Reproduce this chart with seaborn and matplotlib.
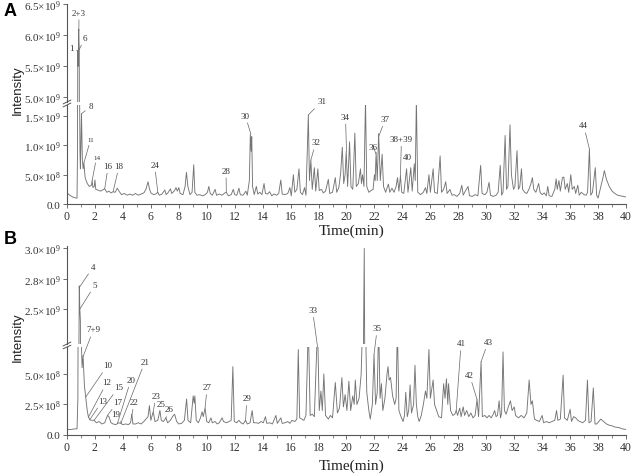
import numpy as np
import pandas as pd
import matplotlib
matplotlib.use("Agg")
import matplotlib.pyplot as plt
import seaborn as sns

# ---------------- data (intensity in units of 1e8) ----------------
time_A = [0.00,0.20,0.40,0.60,0.72,0.75,0.77,0.80,0.84,0.88,0.90,0.93,0.96,1.04,1.10,1.16,1.21,1.30,1.45,1.60,
          1.75,1.80,1.86,1.95,2.00,2.06,2.20,2.40,2.55,2.70,2.85,3.00,3.15,3.30,3.45,3.60,3.75,3.90,4.10,4.30,
          4.50,4.70,4.90,5.10,5.30,5.50,5.65,5.80,5.90,6.00,6.20,6.35,6.50,6.60,6.80,7.00,7.10,7.25,7.40,7.50,
          7.70,7.80,7.90,8.00,8.10,8.30,8.45,8.55,8.65,8.80,8.95,9.07,9.15,9.30,9.50,9.70,9.90,10.05,10.15,10.25,
          10.40,10.60,10.70,10.90,11.10,11.30,11.40,11.55,11.75,11.90,12.00,12.15,12.30,12.40,12.60,12.80,12.90,13.05,13.12,13.18,
          13.22,13.28,13.40,13.55,13.65,13.80,13.95,14.10,14.20,14.35,14.50,14.65,14.80,15.00,15.15,15.30,15.40,15.60,15.80,15.95,
          16.05,16.20,16.30,16.45,16.60,16.70,16.85,17.00,17.10,17.27,17.35,17.45,17.55,17.70,17.80,17.95,18.05,18.20,18.35,18.50,
          18.70,18.80,19.00,19.20,19.30,19.45,19.58,19.70,19.80,19.90,19.98,20.08,20.22,20.32,20.45,20.60,20.70,20.85,21.00,21.07,
          21.15,21.25,21.36,21.45,21.60,21.75,21.90,22.00,22.05,22.12,22.20,22.30,22.42,22.55,22.65,22.80,23.00,23.10,23.25,23.40,
          23.55,23.65,23.75,23.86,23.95,24.10,24.30,24.40,24.60,24.70,24.85,24.92,25.00,25.10,25.30,25.50,25.65,25.75,25.90,26.00,
          26.20,26.30,26.50,26.70,26.80,26.95,27.10,27.20,27.40,27.55,27.70,27.90,28.10,28.25,28.35,28.50,28.70,28.80,29.00,29.20,
          29.40,29.60,29.70,29.90,30.05,30.20,30.30,30.50,30.70,30.85,31.00,31.10,31.20,31.35,31.45,31.55,31.70,31.80,31.95,32.05,
          32.20,32.30,32.40,32.52,32.60,32.75,32.90,33.05,33.20,33.30,33.40,33.55,33.75,33.85,34.00,34.15,34.30,34.40,34.50,34.70,
          34.90,35.00,35.08,35.20,35.30,35.45,35.55,35.65,35.80,35.90,36.05,36.15,36.30,36.40,36.55,36.65,36.80,37.00,37.15,37.25,
          37.38,37.48,37.60,37.80,37.90,38.00,38.15,38.35,38.45,38.60,38.80,39.00,39.20,39.40,39.60,39.80,40.00]
int_A = [1.9,1.5,1.2,1.05,1.0,8.0,57.5,55.0,61.0,57.7,20.0,9.0,6.0,15.4,7.5,6.0,7.0,4.5,3.5,3.0,
         3.2,4.0,2.8,3.0,4.1,2.5,2.4,2.2,2.4,2.6,2.0,2.2,1.9,2.1,2.0,2.7,2.1,1.6,1.8,1.5,
         1.7,1.5,1.8,1.5,1.7,1.9,2.5,3.8,2.6,1.9,1.6,1.7,2.0,1.5,1.7,2.4,1.6,2.0,2.6,1.8,
         2.3,2.8,2.2,2.8,1.8,1.6,3.0,5.4,3.0,1.6,2.0,6.7,2.0,1.5,1.6,1.4,1.6,2.0,3.0,1.8,
         1.5,2.5,1.5,1.7,1.5,1.9,2.0,1.4,1.6,2.5,1.6,1.5,2.7,1.6,1.5,2.2,1.5,4.0,11.9,9.0,
         11.5,3.0,1.6,3.0,1.7,2.0,1.6,3.5,1.8,1.7,2.1,1.4,1.7,1.5,1.8,4.1,1.7,1.6,1.8,2.8,
         1.4,5.0,2.0,2.5,6.0,2.0,1.6,2.8,1.5,15.2,4.0,7.5,2.5,6.2,2.2,6.0,2.3,2.5,1.9,2.2,
         4.2,1.8,2.0,4.5,2.0,2.8,5.2,9.7,3.5,5.0,9.0,3.0,10.6,3.0,2.5,12.1,3.0,3.5,6.0,3.5,
         5.0,3.0,18.0,3.0,2.0,2.3,2.5,5.0,4.0,8.8,4.0,12.0,4.0,8.5,3.0,2.0,3.4,2.0,2.7,2.0,
         3.0,4.5,2.2,4.8,2.0,1.8,6.0,2.0,6.2,2.2,6.8,4.0,18.0,2.0,1.6,2.0,2.8,1.8,5.0,2.0,
         6.0,2.0,1.8,8.2,2.0,2.5,3.8,1.8,2.5,1.5,1.6,1.3,1.8,3.2,1.5,2.2,3.0,1.4,1.3,1.6,
         1.4,6.6,1.8,1.6,2.0,3.7,1.5,1.3,1.5,2.0,6.6,1.5,2.0,11.7,2.5,3.0,13.5,5.0,2.5,3.0,
         9.1,2.5,3.0,6.0,2.5,2.0,1.8,2.5,3.5,4.5,2.5,2.0,3.5,2.0,1.6,1.9,1.4,3.0,1.4,1.3,
         2.5,4.3,2.5,4.0,2.2,4.5,4.6,2.5,3.5,2.0,5.0,2.5,3.0,1.8,3.2,1.5,2.0,1.6,1.5,2.0,
         9.4,1.5,2.0,6.2,1.5,1.0,2.5,4.5,5.7,4.2,3.0,2.2,1.8,1.5,1.4,1.3,1.2]

time_B = [0.00,0.30,0.55,0.72,0.78,0.80,0.88,0.92,0.96,1.02,1.08,1.15,1.25,1.34,1.45,1.53,1.63,1.75,1.94,2.10,
          2.30,2.50,2.70,2.90,3.00,3.15,3.30,3.50,3.70,3.85,4.00,4.20,4.40,4.55,4.64,4.72,4.90,5.10,5.30,5.50,
          5.65,5.80,5.90,6.00,6.17,6.30,6.50,6.65,6.75,6.90,7.08,7.20,7.40,7.55,7.70,7.85,8.00,8.20,8.40,8.56,
          8.66,8.85,8.95,9.03,9.10,9.15,9.25,9.40,9.55,9.67,9.75,9.88,10.00,10.15,10.30,10.40,10.60,10.75,10.90,11.10,
          11.20,11.40,11.60,11.75,11.87,11.97,12.15,12.30,12.45,12.60,12.78,12.90,13.10,13.25,13.35,13.55,13.70,13.90,14.05,14.20,
          14.30,14.50,14.70,14.95,15.05,15.30,15.40,15.60,15.80,15.95,16.10,16.30,16.45,16.55,16.65,16.80,16.95,17.10,17.27,17.40,
          17.55,17.70,17.93,18.05,18.17,18.27,18.38,18.50,18.70,18.85,19.00,19.20,19.35,19.50,19.67,19.78,19.90,20.03,20.17,20.30,
          20.45,20.55,20.63,20.75,20.90,21.05,21.15,21.20,21.27,21.35,21.45,21.60,21.70,21.85,21.97,22.08,22.20,22.30,22.40,22.50,
          22.60,22.75,22.90,22.97,23.05,23.15,23.30,23.45,23.55,23.64,23.75,23.90,24.05,24.15,24.24,24.35,24.45,24.55,24.65,24.80,
          24.90,25.00,25.10,25.20,25.35,25.50,25.65,25.75,25.90,26.00,26.20,26.30,26.45,26.60,26.80,26.95,27.05,27.15,27.25,27.30,
          27.45,27.60,27.75,27.85,27.95,28.10,28.20,28.35,28.45,28.60,28.75,28.90,29.05,29.20,29.34,29.45,29.63,29.72,29.90,30.05,
          30.20,30.35,30.50,30.60,30.70,30.80,30.92,31.02,31.10,31.20,31.30,31.42,31.55,31.73,31.85,32.00,32.10,32.30,32.50,32.70,
          32.90,33.07,33.20,33.30,33.45,33.60,33.80,34.00,34.10,34.30,34.50,34.70,34.90,35.03,35.12,35.30,35.50,35.60,35.80,36.00,
          36.10,36.25,36.40,36.55,36.70,36.90,37.10,37.24,37.35,37.50,37.66,37.78,37.90,38.05,38.20,38.40,38.60,38.80,39.00,39.20,
          39.50,39.75,40.00]
int_B = [0.45,0.45,0.5,0.5,3.0,10.0,26.9,25.0,24.0,8.0,5.5,6.5,4.0,3.1,2.0,1.5,1.25,1.2,1.2,1.0,
         1.1,0.9,1.0,1.6,1.5,1.0,0.9,0.85,1.0,0.95,0.85,0.9,0.85,1.0,1.7,0.9,0.9,1.0,0.9,1.1,
         1.3,1.5,2.4,1.2,1.9,1.1,1.2,2.0,1.2,1.1,1.4,1.0,1.2,1.5,1.7,1.1,0.9,0.95,1.2,2.95,
         1.2,1.0,2.2,3.2,2.6,3.2,1.2,1.0,1.4,1.9,1.5,2.2,1.1,1.0,1.4,1.0,1.1,0.9,1.0,1.4,
         1.1,1.0,1.1,1.2,5.6,1.1,1.0,1.2,1.0,0.9,1.2,0.9,1.0,2.0,1.0,1.0,0.95,1.1,1.0,1.5,
         0.95,1.0,0.9,1.6,0.95,1.4,0.95,1.0,1.1,0.95,1.2,1.1,1.3,7.0,1.4,1.3,1.2,1.6,9.0,1.6,
         1.7,1.5,9.0,2.0,3.6,2.0,5.0,1.6,1.3,1.6,1.4,4.3,1.8,2.2,4.7,2.3,3.3,2.0,4.4,2.0,
         3.2,2.5,4.5,2.5,3.0,5.0,9.0,20.0,30.0,10.0,3.5,2.0,1.3,2.5,6.6,2.5,3.5,9.0,3.0,4.2,
         2.0,3.0,5.0,5.6,4.5,4.7,3.2,2.5,3.0,9.0,2.0,1.5,1.1,1.6,3.5,1.5,2.0,4.1,1.8,2.5,
         5.7,2.5,1.5,1.1,1.6,2.5,3.6,3.0,7.0,3.0,4.5,2.5,2.0,1.5,1.4,4.2,3.0,4.6,2.5,4.2,
         2.0,1.6,1.7,2.0,1.6,2.2,1.5,2.3,1.6,2.0,1.5,1.8,1.4,1.6,2.9,1.5,6.0,1.5,1.6,1.4,
         1.6,1.4,1.7,2.0,1.5,1.6,2.8,1.4,1.8,6.8,2.0,1.7,2.2,2.8,2.0,2.3,1.6,1.4,1.6,1.4,
         1.8,4.5,2.5,2.8,1.3,1.2,1.1,1.6,1.0,1.1,1.0,1.1,1.2,2.0,1.2,1.3,4.9,1.4,1.2,2.1,
         1.1,1.5,1.4,1.2,1.1,1.0,1.2,4.5,1.0,1.1,3.85,0.9,0.9,1.1,1.3,1.1,0.9,0.8,0.75,0.65,
         0.6,0.5,0.45]

# peak labels: (label, peak time, peak intensity (1e8), text time, text intensity (1e8))
labels_A = [("1", 0.76, 57.5, 0.29, 58.0), ("2+3", 0.85, 60.7, 0.86, 63.7), ("6", 0.88, 57.7, 1.28, 59.6),
            ("8", 1.04, 15.4, 1.70, 16.7), ("11", 1.21, 7.0, 1.69, 11.0), ("14", 1.80, 4.0, 2.12, 8.0),
            ("16", 2.70, 2.6, 2.95, 6.5), ("18", 3.30, 2.1, 3.73, 6.5), ("24", 6.50, 2.0, 6.27, 6.7),
            ("28", 11.40, 2.0, 11.38, 5.7), ("30", 13.16, 11.9, 12.76, 15.1), ("31", 17.27, 15.2, 18.22, 17.5),
            ("32", 17.45, 7.5, 17.80, 10.5), ("34", 20.00, 9.0, 19.93, 14.9), ("36", 22.10, 8.6, 21.92, 9.8),
            ("37", 22.30, 11.5, 22.78, 14.5), ("38+39", 23.86, 4.8, 23.93, 11.1), ("40", 24.90, 6.8, 24.33, 8.1),
            ("44", 37.38, 9.4, 36.97, 13.4)]
labels_B = [("4", 0.90, 26.8, 1.89, 28.5), ("5", 0.93, 25.0, 2.01, 27.0), ("7+9", 1.15, 6.4, 1.89, 23.3),
            ("10", 1.34, 3.1, 2.90, 5.7), ("12", 1.53, 1.45, 2.85, 4.3), ("13", 1.63, 1.25, 2.54, 2.8),
            ("15", 1.94, 1.2, 3.69, 3.9), ("17", 2.90, 1.6, 3.61, 2.7), ("19", 3.90, 1.0, 3.45, 1.7),
            ("20", 3.61, 0.95, 4.57, 4.5), ("21", 3.85, 0.95, 5.58, 6.0), ("22", 4.64, 1.6, 4.81, 2.7),
            ("23", 6.17, 1.9, 6.37, 3.2), ("25", 6.65, 1.9, 6.72, 2.5), ("26", 7.08, 1.4, 7.32, 2.1),
            ("27", 9.88, 2.2, 10.03, 3.9), ("29", 12.78, 1.2, 12.87, 3.0), ("33", 17.93, 7.2, 17.57, 24.9),
            ("35", 21.97, 6.6, 22.20, 23.4), ("41", 27.85, 2.0, 28.20, 7.5), ("42", 29.34, 2.9, 28.81, 4.9),
            ("43", 29.63, 6.0, 30.13, 7.6)]

yticks_A_low = [0.0, 5.0e8, 1.0e9, 1.5e9]
ylabels_A_low = ["0.0", "5.0×10^8", "1.0×10^9", "1.5×10^9"]
yticks_A_up = [5.0e9, 5.5e9, 6.0e9, 6.5e9]
ylabels_A_up = ["5.0×10^9", "5.5×10^9", "6.0×10^9", "6.5×10^9"]
yticks_B_low = [0.0, 2.5e8, 5.0e8]
ylabels_B_low = ["0.0", "2.5×10^8", "5.0×10^8"]
yticks_B_up = [2.5e9, 2.75e9, 3.0e9]
ylabels_B_up = ["2.5×10^9", "2.8×10^9", "3.0×10^9"]
xticks = list(range(0, 41, 2))

# ---------------- style ----------------
sns.set_style("ticks")
plt.rcParams['font.family'] = ['Liberation Serif', 'DejaVu Serif']
plt.rcParams['mathtext.fontset'] = 'custom'
plt.rcParams['mathtext.rm'] = 'Liberation Serif'
plt.rcParams['mathtext.it'] = 'Liberation Serif:italic'
plt.rcParams['mathtext.bf'] = 'Liberation Serif:bold'
SERIF = ['Liberation Serif', 'DejaVu Serif']
SANS = ['Liberation Sans', 'DejaVu Sans']
LINE = '#747474'
AX = '#555555'
TXT = '#333333'


def tex(s):
    if "^" not in s:
        return s
    base, exp = s.split("^")
    return r"$\mathrm{" + base.replace("×", r"{\times}") + "}^{" + exp + "}$"


fig = plt.figure(figsize=(6.36, 4.77), dpi=100)
L, W = 0.1053, 0.879
axAu = fig.add_axes([L, 0.7841, W, 0.9885 - 0.7841])
axAl = fig.add_axes([L, 0.5702, W, 0.7778 - 0.5702])
axBu = fig.add_axes([L, 0.2767, W, 0.4822 - 0.2767])
axBl = fig.add_axes([L, 0.0860, W, 0.2704 - 0.0860])

dfA = pd.DataFrame({"t": time_A, "I": np.array(int_A) * 1e8})
dfB = pd.DataFrame({"t": time_B, "I": np.array(int_B) * 1e8})

for ax, df in [(axAu, dfA), (axAl, dfA), (axBu, dfB), (axBl, dfB)]:
    ax.set_facecolor('none')
    sns.lineplot(data=df, x="t", y="I", ax=ax, color=LINE, lw=0.65, sort=False, estimator=None)
    ax.set_xlim(0, 40)
    ax.set_xlabel("")
    ax.set_ylabel("")
    for s in ["top", "right"]:
        ax.spines[s].set_visible(False)
    for s in ["left", "bottom"]:
        ax.spines[s].set_color(AX)
        ax.spines[s].set_linewidth(0.8)
    ax.tick_params(axis='y', direction='out', length=3, width=0.6, color=AX, labelsize=8, pad=1.5,
                   labelcolor=TXT)

axAu.set_ylim(4.92e9, 6.5e9)
axAl.set_ylim(0, 1.69e9)
axBu.set_ylim(2.21e9, 3.02e9)
axBl.set_ylim(0, 7.2e8)

axAu.set_yticks(yticks_A_up, [tex(s) for s in ylabels_A_up])
axAl.set_yticks(yticks_A_low, [tex(s) for s in ylabels_A_low])
axBu.set_yticks(yticks_B_up, [tex(s) for s in ylabels_B_up])
axBl.set_yticks(yticks_B_low, [tex(s) for s in ylabels_B_low])

for ax in (axAu, axBu):
    ax.spines["bottom"].set_visible(False)
    ax.set_xticks([])
for ax in (axAl, axBl):
    ax.set_xticks(xticks, [str(v) for v in xticks])
    ax.set_xticks(range(0, 41, 1), minor=True)
    ax.tick_params(axis='x', which='major', direction='out', length=3, width=0.6, color=AX,
                   labelsize=8.5, pad=1.2, labelcolor=TXT)
    ax.tick_params(axis='x', which='minor', direction='out', length=1.8, width=0.5, color=AX)

# break marks on the y axis
for ax_up, ax_low in [(axAu, axAl), (axBu, axBl)]:
    for ax, yy in [(ax_up, 0.0), (ax_low, 1.0)]:
        ax.plot([-0.007, 0.007], [yy - 0.02, yy + 0.02], transform=ax.transAxes,
                color=AX, lw=0.7, clip_on=False)


# peak labels
def put_labels(labels, ax_up, ax_low, split):
    for lab, pt, pi, tt, ti in labels:
        pi *= 1e8
        ti *= 1e8
        ax_tgt = ax_up if pi >= split else ax_low
        ax_txt = ax_up if ti >= split else ax_low
        fs = 5.0 if lab in ("11", "14") else 6.5
        ax_txt.annotate(lab, xy=(pt, pi), xycoords=ax_tgt.transData,
                        xytext=(tt, ti), textcoords=ax_txt.transData,
                        ha='center', va='center', fontsize=fs, family=SERIF, color=TXT,
                        arrowprops=dict(arrowstyle='-', lw=0.5, color='#666666',
                                        shrinkA=0, shrinkB=0),
                        annotation_clip=False)


put_labels(labels_A, axAu, axAl, 3.0e9)
put_labels(labels_B, axBu, axBl, 1.5e9)

# axis titles and panel letters
fig.text(18 / 636, 1 - 90 / 477, "Intensity", rotation=90, ha='center', va='center',
         fontsize=9.5, family=SANS, color='#222222')
fig.text(18 / 636, 1 - 337 / 477, "Intensity", rotation=90, ha='center', va='center',
         fontsize=9.5, family=SANS, color='#222222')
fig.text(352 / 636, 1 - 231 / 477, "Time(min)", ha='center', va='center',
         fontsize=11, family=SERIF, color='#222222')
fig.text(352 / 636, 1 - 466 / 477, "Time(min)", ha='center', va='center',
         fontsize=11, family=SERIF, color='#222222')
fig.text(10 / 636, 1 - 11 / 477, "A", ha='center', va='center', fontsize=13,
         fontweight='bold', family=SANS, color='black')
fig.text(10 / 636, 1 - 240 / 477, "B", ha='center', va='center', fontsize=13,
         fontweight='bold', family=SANS, color='black')

fig.savefig("out.png", dpi=100)
